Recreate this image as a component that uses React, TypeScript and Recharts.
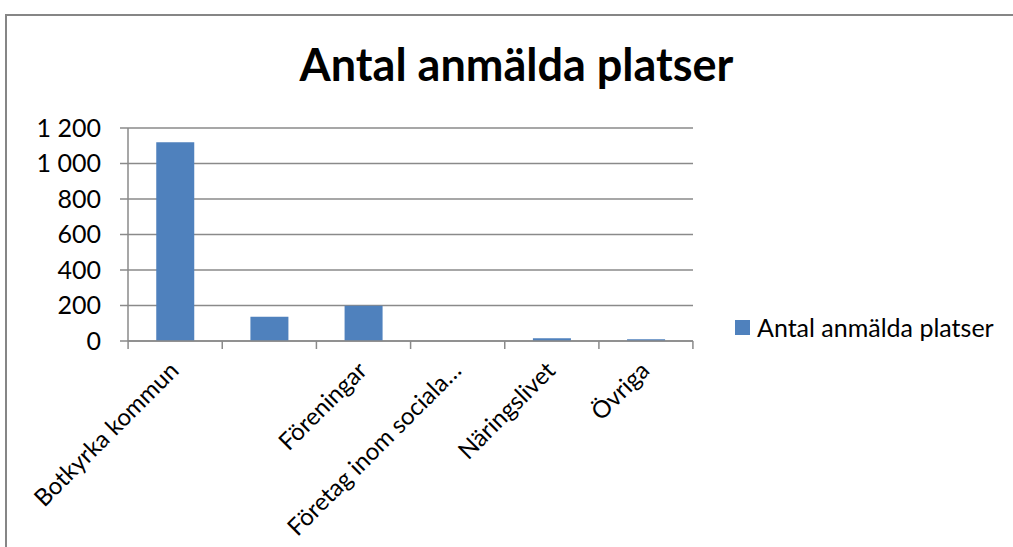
import { Bar, BarChart, CartesianGrid, Legend, XAxis, YAxis } from "recharts";

const categories = [
  "Botkyrka kommun",
  "",
  "Föreningar",
  "Företag inom sociala…",
  "Näringslivet",
  "Övriga",
];
const platser = [1120, 137, 198, 0, 15, 10];
const yTicks = [0, 200, 400, 600, 800, 1000, 1200];

const data = categories.map((name, i) => ({ name, platser: platser[i] }));

const FONT = "Lato, 'Liberation Sans', sans-serif";
const GRID = "#8a8a8a";
const BAR = "#4f81bd";
const HALF_BAND = 47;

const fmt = (v: number) => String(v).replace(/\B(?=(\d{3})+(?!\d))/g, " ");

function XTick(props: any) {
  const { x, y, payload, index } = props;
  const last = index === categories.length - 1;
  return (
    <g>
      <line x1={x - HALF_BAND} x2={x - HALF_BAND} y1={y - 8} y2={y} stroke={GRID} strokeWidth={1.5} />
      {last ? (
        <line x1={x + HALF_BAND} x2={x + HALF_BAND} y1={y - 8} y2={y} stroke={GRID} strokeWidth={1.5} />
      ) : null}
      <text
        transform={`translate(${x - 7},${y + 11}) rotate(-45)`}
        textAnchor="end"
        dy="0.71em"
        fontSize={24}
        fontFamily={FONT}
        fill="#000"
      >
        {payload.value}
      </text>
    </g>
  );
}

function LegendBox() {
  return (
    <div style={{ display: "flex", alignItems: "center", fontFamily: FONT, fontSize: 25, color: "#000", lineHeight: "30px" }}>
      <span style={{ width: 15, height: 15, background: BAR, display: "inline-block", marginRight: 7 }} />
      Antal anmälda platser
    </div>
  );
}

export default function App() {
  return (
    <div
      style={{
        position: "fixed",
        left: 0,
        top: 0,
        width: 1013,
        height: 547,
        overflow: "hidden",
        background: "#fff",
      }}
    >
      <div
        style={{
          position: "absolute",
          left: 5,
          top: 14,
          width: 1100,
          height: 700,
          border: "2px solid #868686",
        }}
      />
      <div
        style={{
          position: "absolute",
          left: 0,
          top: 40,
          width: 1033,
          textAlign: "center",
          fontFamily: FONT,
          fontWeight: 700,
          fontSize: 45,
          color: "#000",
          lineHeight: "48px",
        }}
      >
        Antal anmälda platser
      </div>
      <div style={{ position: "absolute", left: 0, top: 0 }}>
        <BarChart
          width={1013}
          height={547}
          data={data}
          margin={{ top: 128, right: 320, bottom: 0, left: 28 }}
          barCategoryGap="30%"
        >
          <CartesianGrid vertical={false} stroke={GRID} strokeWidth={1.5} />
          <XAxis
            dataKey="name"
            interval={0}
            height={206}
            tickLine={false}
            axisLine={{ stroke: GRID, strokeWidth: 1.5 }}
            tick={<XTick />}
          />
          <YAxis
            width={100}
            domain={[0, 1200]}
            ticks={yTicks}
            tickFormatter={fmt}
            tickSize={8}
            tickMargin={19}
            axisLine={{ stroke: GRID, strokeWidth: 1.5 }}
            tickLine={{ stroke: GRID, strokeWidth: 1.5 }}
            tick={{ fill: "#000", fontSize: 25, fontFamily: FONT }}
          />
          <Legend
            layout="horizontal"
            verticalAlign="middle"
            align="center"
            content={<LegendBox />}
            wrapperStyle={{ left: 735, top: 312, width: "auto" }}
          />
          <Bar dataKey="platser" fill={BAR} isAnimationActive={false} />
        </BarChart>
      </div>
    </div>
  );
}
